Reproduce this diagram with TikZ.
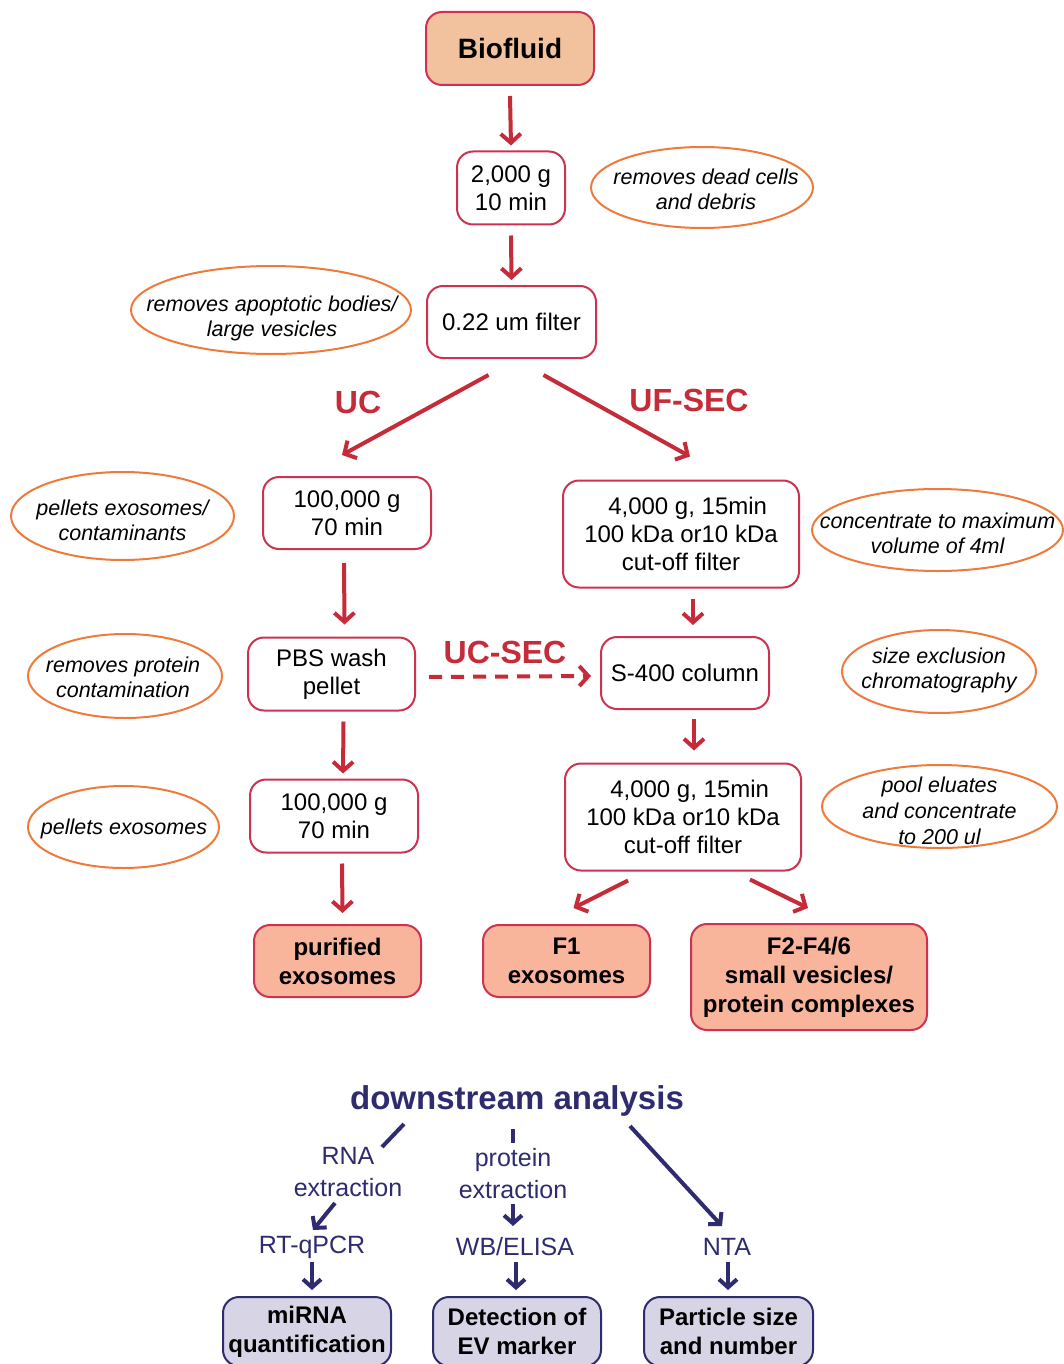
\documentclass[tikz,border=0pt]{standalone}
\usepackage{fontspec}
\setmainfont{Liberation Sans}
\usetikzlibrary{shapes.geometric,arrows.meta,calc}
\definecolor{boxred}{HTML}{CC3350}
\definecolor{arrred}{HTML}{C62B3A}
\definecolor{peach}{HTML}{F2C29E}
\definecolor{salmon}{HTML}{F8B59B}
\definecolor{orng}{HTML}{EE7B3B}
\definecolor{navy}{HTML}{2E2C6E}
\definecolor{lav}{HTML}{D7D5E5}
\begin{document}
\begin{tikzpicture}[x=1pt,y=-1pt,
  box/.style={draw=boxred, line width=2pt, rounded corners=16pt, fill=white, align=center, inner sep=0pt, font=\fontsize{24}{28}\selectfont},
  resbox/.style={box, fill=salmon, font=\bfseries\fontsize{24}{29}\selectfont},
  note/.style={align=center, inner sep=0pt, font=\itshape\fontsize{21.5}{25}\selectfont},
  oval/.style={draw=orng, line width=2pt},
  lbl/.style={text=arrred, font=\bfseries\fontsize{32}{36}\selectfont, inner sep=0pt},
  arr/.style={draw=arrred, line width=4pt, -{Straight Barb[length=9pt,width=20pt]}},
  narr/.style={draw=navy, line width=4pt, -{Straight Barb[length=8pt,width=18pt]}},
  nline/.style={draw=navy, line width=4pt},
  nlbl/.style={text=navy, align=center, inner sep=0pt, font=\fontsize{25}{32}\selectfont},
  navybox/.style={draw=navy, fill=lav, line width=2pt, rounded corners=16pt, align=center, inner sep=0pt, font=\bfseries\fontsize{24}{29}\selectfont}
]
\useasboundingbox (0,0) rectangle (1063,1364);
\fill[white] (0,0) rectangle (1063,1364);

% main column
\node[box, fill=peach, font=\bfseries\fontsize{28}{32}\selectfont, minimum width=168pt, minimum height=73pt] (bio) at (510,48.5) {Biofluid};
\node[box, minimum width=108pt, minimum height=73pt] (g2000) at (511,188) {2,000 g\\10 min};
\node[note] (n1) at (706,189.5) {removes dead cells\\and debris};
\draw[oval] (702,187.5) ellipse [x radius=111, y radius=40.5];
\node[box, minimum width=169pt, minimum height=72pt] (filt) at (511.5,322) {0.22 um filter};
\node[note] (n2) at (272,318) {removes apoptotic bodies/\\large vesicles};
\draw[oval] (271,310) ellipse [x radius=140, y radius=44];

\node[lbl] (uc) at (358,402) {UC};
\node[lbl] (ufsec) at (689,400) {UF-SEC};

% UC branch
\node[box, minimum width=168pt, minimum height=72pt] (uc1) at (347,513) {100,000 g\\70 min};
\node[note] (n3) at (122.5,520) {pellets exosomes/\\contaminants};
\draw[oval] (122.5,516) ellipse [x radius=111.5, y radius=44];
\node[box, minimum width=167pt, minimum height=73pt] (pbs) at (331.5,674) {PBS wash\\pellet};
\node[note] (n4) at (123,677) {removes protein\\contamination};
\draw[oval] (125,676) ellipse [x radius=97, y radius=42];
\node[box, minimum width=168pt, minimum height=73pt] (uc2) at (334,816) {100,000 g\\70 min};
\node[note] (n5) at (124,829) {pellets exosomes};
\draw[oval] (123.5,827) ellipse [x radius=95.5, y radius=41];
\node[resbox, minimum width=167pt, minimum height=72pt] (pur) at (337.5,961) {purified\\exosomes};

% UF-SEC branch
\node[box, minimum width=236pt, minimum height=107pt] (uf1) at (681,534) {\ \ 4,000 g, 15min\\100 kDa or10 kDa\\cut-off filter};
\node[note] (n6) at (937.5,533) {concentrate to maximum\\volume of 4ml};
\draw[oval] (937.5,530) ellipse [x radius=125.5, y radius=41];
\node[box, minimum width=168pt, minimum height=72pt] (s400) at (685,673) {S-400 column};
\node[note] (n7) at (939,670) {size exclusion\\chromatography};
\draw[oval] (939,671.5) ellipse [x radius=97, y radius=41.5];
\node[box, minimum width=236pt, minimum height=107pt] (uf2) at (683,817) {\ \ 4,000 g, 15min\\100 kDa or10 kDa\\cut-off filter};
\node[note, font=\itshape\fontsize{21.5}{26}\selectfont] (n8) at (939.5,811) {pool eluates\\and concentrate\\to 200 ul};
\draw[oval] (939.5,806.5) ellipse [x radius=117.5, y radius=41.5];
\node[resbox, minimum width=167pt, minimum height=72pt] (f1) at (566.5,961) {F1\\exosomes};
\node[resbox, minimum width=236pt, minimum height=106pt] (f2) at (809,977) {F2-F4/6\\small vesicles/\\protein complexes};

\node[lbl] (ucsec) at (505,652) {UC-SEC};

% arrows
\draw[arr] ([yshift=-10pt]bio.south) -- ([yshift=5pt]g2000.north);
\draw[arr] ([yshift=-10pt]g2000.south) -- ([yshift=5pt]filt.north);
\draw[arr] ([xshift=-23pt,yshift=-16pt]filt.south) -- ([xshift=-5pt,yshift=21pt]uc1.north);
\draw[arr] ([xshift=32pt,yshift=-16pt]filt.south) -- ([xshift=9pt,yshift=23pt]uf1.north);
\draw[arr] ([xshift=-3pt,yshift=-13pt]uc1.south) -- ([xshift=13pt,yshift=12pt]pbs.north);
\draw[arr] ([xshift=12pt,yshift=-10pt]uf1.south) -- ([xshift=8pt,yshift=11pt]s400.north);
\draw[arr] ([xshift=12pt,yshift=-10pt]pbs.south) -- ([xshift=9pt,yshift=5pt]uc2.north);
\draw[arr] ([xshift=9pt,yshift=-9pt]s400.south) -- ([xshift=11pt,yshift=12pt]uf2.north);
\draw[arr] ([xshift=8pt,yshift=-10pt]uc2.south) -- ([xshift=5pt,yshift=11pt]pur.north);
\draw[arr] ([xshift=-55pt,yshift=-9pt]uf2.south) -- ([xshift=7pt,yshift=16pt]f1.north);
\draw[arr] ([xshift=67pt,yshift=-8pt]uf2.south) -- ([xshift=-1pt,yshift=15pt]f2.north);
\draw[arr, dash pattern=on 13pt off 9pt] ([xshift=13pt,yshift=-3pt]pbs.east) -- ([xshift=-9pt,yshift=-3pt]s400.west);

% downstream analysis
\node[text=navy, inner sep=0pt, font=\bfseries\fontsize{33}{38}\selectfont] (ds) at (517,1101) {downstream analysis};
\node[nlbl] (rna) at (348,1172) {RNA\\extraction};
\node[nlbl] (prot) at (513,1174) {protein\\extraction};
\node[nlbl] (rtq) at (312,1247) {RT-qPCR};
\node[nlbl] (wb) at (515,1247) {WB/ELISA};
\node[nlbl] (nta) at (727,1247) {NTA};
\node[navybox, minimum width=168pt, minimum height=69pt] (mirna) at (307,1331.5) {miRNA\\quantification};
\node[navybox, minimum width=168pt, minimum height=69pt] (det) at (517,1331.5) {Detection of\\EV marker};
\node[navybox, minimum width=169pt, minimum height=69pt] (part) at (728.5,1331.5) {Particle size\\and number};

\draw[nline] ([xshift=-113pt,yshift=-23pt]ds.center) -- ([xshift=34pt,yshift=25pt]rna.center);
\draw[nline] ([xshift=-4pt,yshift=-28pt]ds.center) -- ([xshift=0pt,yshift=31pt]prot.center);
\draw[narr] ([xshift=113pt,yshift=-25pt]ds.center) -- ([xshift=-5pt,yshift=21pt]nta.center);
\draw[narr] ([xshift=-13pt,yshift=-31pt]rna.center) -- ([xshift=1pt,yshift=17pt]rtq.center);
\draw[narr] ([yshift=-30pt]prot.center) -- ([xshift=-2pt,yshift=21pt]wb.center);
\draw[narr] ([yshift=-15pt]rtq.center) -- ([xshift=5pt,yshift=41.5pt]mirna.center);
\draw[narr] ([xshift=1pt,yshift=-15pt]wb.center) -- ([xshift=-1pt,yshift=41.5pt]det.center);
\draw[narr] ([xshift=1pt,yshift=-15pt]nta.center) -- ([xshift=-0.5pt,yshift=41.5pt]part.center);
\end{tikzpicture}
\end{document}
